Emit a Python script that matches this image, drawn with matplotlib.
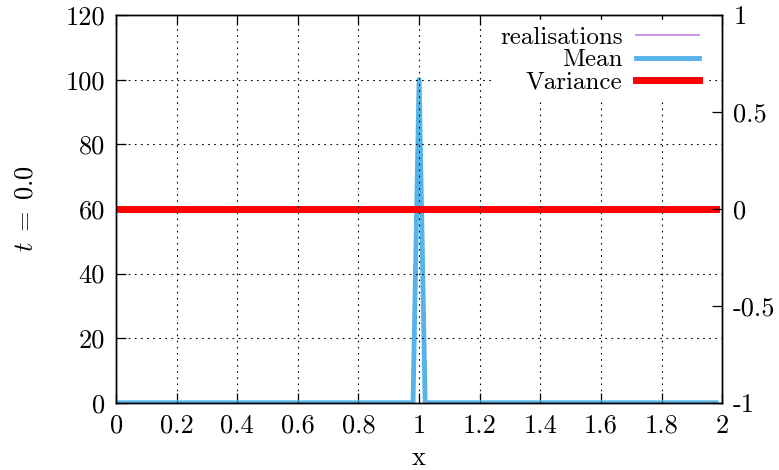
import numpy as np
import matplotlib
matplotlib.use("Agg")
import matplotlib.pyplot as plt

plt.rcParams['font.family'] = 'serif'
plt.rcParams['font.serif'] = ['cmr10']
plt.rcParams['mathtext.fontset'] = 'cm'
plt.rcParams['axes.unicode_minus'] = False

# data: grid x = 0 .. 1.98, delta peak at x = 1
x = np.arange(100) * 0.02
mean = np.zeros(100)
mean[50] = 100.0
realisations = mean.copy()
variance = np.zeros(100)

xticks = [0, 0.2, 0.4, 0.6, 0.8, 1, 1.2, 1.4, 1.6, 1.8, 2]
xlabels = ["0", "0.2", "0.4", "0.6", "0.8", "1", "1.2", "1.4", "1.6", "1.8", "2"]
yticks = [0, 20, 40, 60, 80, 100, 120]
y2ticks = [-1, -0.5, 0, 0.5, 1]
y2labels = ["-1", "-0.5", "0", "0.5", "1"]

fs = 19
fig = plt.figure(figsize=(7.79, 4.70), dpi=100)
ax = fig.add_axes([0.149, 0.143, 0.778, 0.825])
ax2 = ax.twinx()

l_real, = ax.plot(x, realisations, color="#c080e8", lw=1.2, label="realisations")
l_mean, = ax.plot(x, mean, color="#56b4e9", lw=3.5, label="Mean")
l_var, = ax2.plot(x, variance, color="#ff0000", lw=5, label="Variance")

ax.set_xlim(0, 2)
ax.set_ylim(0, 120)
ax2.set_ylim(-1, 1)

ax.set_xticks(xticks)
ax.set_xticklabels(xlabels, fontsize=fs)
ax.set_yticks(yticks)
ax.set_yticklabels([str(v) for v in yticks], fontsize=fs)
ax2.set_yticks(y2ticks)
ax2.set_yticklabels(y2labels, fontsize=fs)

ax.tick_params(axis='x', direction='in', top=True, length=7, width=0.9, pad=8)
ax.tick_params(axis='y', direction='in', length=7, width=0.9, pad=8)
ax2.tick_params(axis='y', direction='in', length=7, width=0.9, pad=8)

# grid on top of the curves, at the left-axis tick heights
ax2.xaxis.set_visible(True)
ax2.tick_params(axis='x', bottom=False, top=False, labelbottom=False, labeltop=False)
ax2.set_yticks([v / 60 - 1 for v in yticks], minor=True)
ax2.tick_params(axis='y', which='minor', length=0)
ax2.set_axisbelow(False)
gstyle = dict(color='black', linestyle=(0, (1.5, 4)), linewidth=0.8)
ax2.grid(True, axis='y', which='minor', **gstyle)
ax2.grid(True, axis='x', which='major', **gstyle)

for a in (ax, ax2):
    for s in a.spines.values():
        s.set_linewidth(1.0)
        s.set_color('black')

ax.set_xlabel("x", fontsize=fs, labelpad=6)
ax.set_ylabel(r"$t\;=\;0.0$", fontsize=fs, labelpad=20)

leg = ax2.legend([l_real, l_mean, l_var], ["realisations", "Mean", "Variance"],
                 loc='upper right', bbox_to_anchor=(0.98, 1.0),
                 markerfirst=False, fontsize=18, frameon=True,
                 fancybox=False, framealpha=1, edgecolor='white',
                 handlelength=2.5, handletextpad=0.55, labelspacing=0.0,
                 borderaxespad=0.2, borderpad=0.25)
leg.set_zorder(10)

fig.savefig("out.png", dpi=100)
